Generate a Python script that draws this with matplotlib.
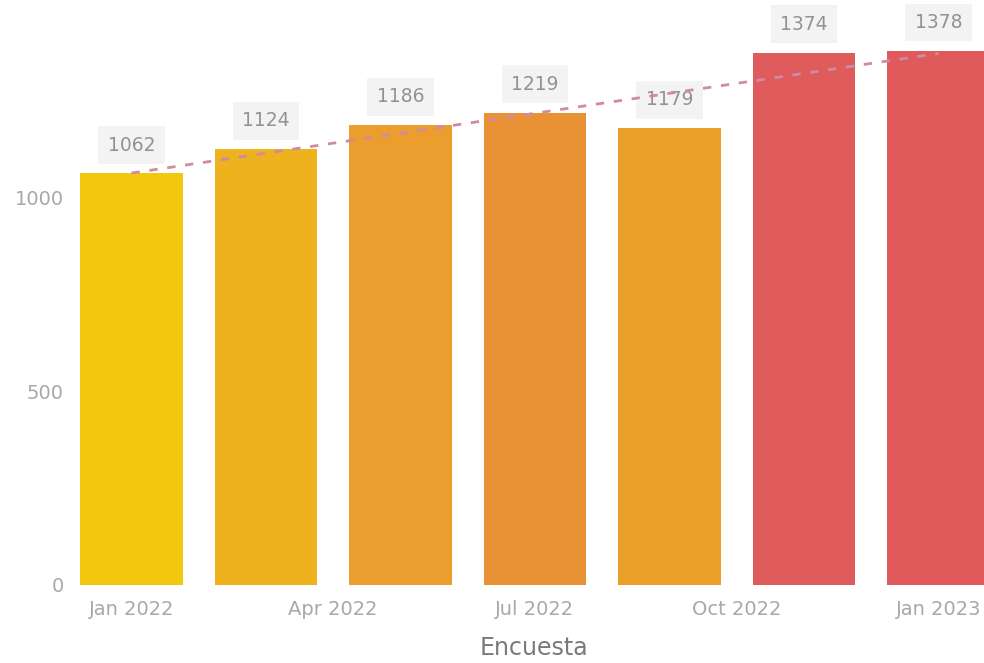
import numpy as np
import matplotlib
matplotlib.use("Agg")
import matplotlib.pyplot as plt
from matplotlib.colors import LinearSegmentedColormap, Normalize

plt.rcParams['font.family'] = ['DejaVu Sans']

# Survey waves (month offsets from Jan 2022) and respondent counts
periods = ['Jan 2022', 'Mar 2022', 'May 2022', 'Jul 2022', 'Sep 2022', 'Nov 2022', 'Jan 2023']
month_offsets = [0, 2, 4, 6, 8, 10, 12]
counts = [1062, 1124, 1186, 1219, 1179, 1374, 1378]

tick_positions = [0, 3, 6, 9, 12]
tick_labels = ['Jan 2022', 'Apr 2022', 'Jul 2022', 'Oct 2022', 'Jan 2023']
y_ticks = [0, 500, 1000]

x = np.array(month_offsets, dtype=float)
y = np.array(counts, dtype=float)

W, H = 984, 663
fig = plt.figure(figsize=(W / 100, H / 100), dpi=100)
# The plot area runs slightly past the right edge, so the last bar is cut off
left_px, right_px, bottom_px = 72, 996, 585
ax = fig.add_axes([left_px / W, (H - bottom_px) / H, (right_px - left_px) / W, bottom_px / H])

# Colour each bar by its value: yellow (low) to red (high)
cmap = LinearSegmentedColormap.from_list('yr', ['#F2C80F', '#E05A5C'])
norm = Normalize(vmin=y.min(), vmax=y.max())
colors = [cmap(norm(v)) for v in y]

ax.bar(x, y, width=1.53, color=colors, zorder=2)

# Value labels in light boxes above the bars
for xi, yi in zip(x, y):
    ax.annotate(f'{int(yi)}', (xi, yi), xytext=(0, 20.5), textcoords='offset points',
                ha='center', va='center', fontsize=13.5, color='#929292', zorder=3,
                bbox=dict(boxstyle='square,pad=0.5', fc='#F3F3F3', ec='none'))

# Linear trend line across the survey waves
coef = np.polyfit(x, y, 1)
trend = np.polyval(coef, x)
ax.plot(x, trend, linestyle=(0, (3, 3.5)), color='#CF8AA6', lw=2.0, zorder=4)

ax.set_xlim((left_px - 131.5) / 67.25, (right_px - 131.5) / 67.25)
ax.set_ylim(0, bottom_px / 0.3875)

ax.set_xticks(tick_positions)
ax.set_xticklabels(tick_labels)
ax.set_yticks(y_ticks)
ax.tick_params(axis='both', length=0, labelsize=14, labelcolor='#A8A8A8')
ax.tick_params(axis='x', pad=11)
ax.tick_params(axis='y', pad=6)
ax.set_xlabel('Encuesta', fontsize=17, color='#7A7A7A', labelpad=12)

for s in ax.spines.values():
    s.set_visible(False)

fig.savefig('out.png', dpi=100)
